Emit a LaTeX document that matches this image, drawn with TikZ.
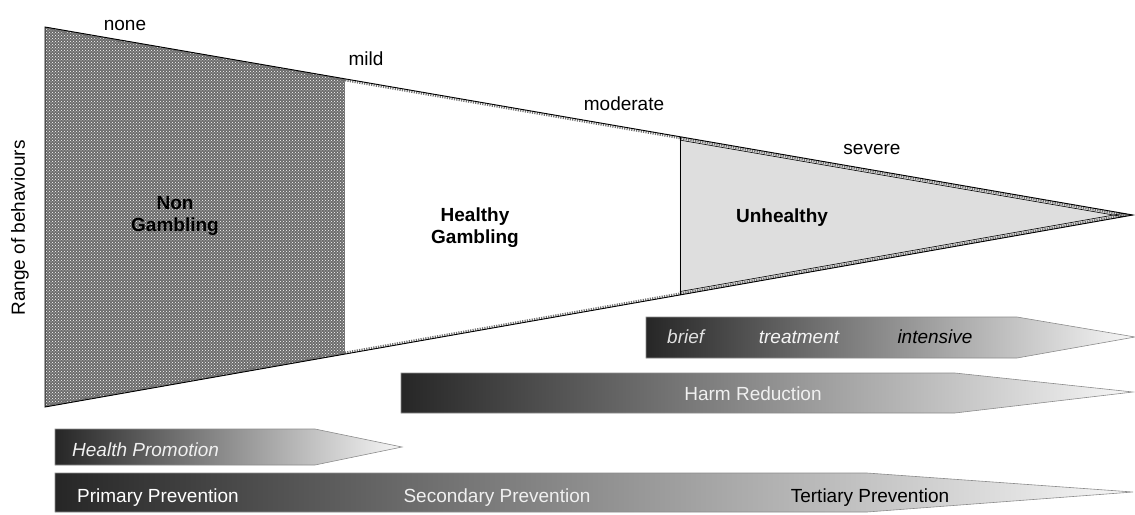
\documentclass[tikz,border=0pt]{standalone}
\usepackage{fontspec}
\setmainfont{Liberation Sans}
\usetikzlibrary{patterns,calc}
\begin{document}
\begin{tikzpicture}[x=1pt,y=-1pt,
  lbl/.style={font=\fontsize{19}{22}\selectfont, inner sep=0pt, anchor=base},
  zone/.style={font=\fontsize{19}{22}\selectfont\bfseries, inner sep=0pt, align=center},
  bar/.style={left color=black!85, right color=black!3, draw=black!45, line width=0.6pt},
  edge/.style={draw=black, line width=0.9pt, line join=miter}]
\useasboundingbox (0,0) rectangle (1135,514);

% funnel corners
\coordinate (TL) at (45,27);
\coordinate (BL) at (45,407);
\coordinate (AP) at (1133,215);
\coordinate (M1t) at ($(TL)!0.2757!(AP)$);
\coordinate (M1b) at ($(BL)!0.2757!(AP)$);
\coordinate (M2t) at ($(TL)!0.5836!(AP)$);
\coordinate (M2b) at ($(BL)!0.5836!(AP)$);

% non gambling region
\fill[black!58] (TL) -- (M1t) -- (M1b) -- (BL) -- cycle;
\fill[pattern=crosshatch dots, pattern color=white] (TL) -- (M1t) -- (M1b) -- (BL) -- cycle;
% unhealthy region
\fill[black!13] (M2t) -- (AP) -- (M2b) -- cycle;

% patterned edge strips
\begin{scope}
  \clip (TL) -- (AP) -- (BL) -- cycle;
  \draw[black!55, line width=5pt, dash pattern=on 1.2pt off 1.2pt] (TL) -- (AP) (BL) -- (AP);
  \draw[black, line width=0.6pt] ($(M2t)+(0,3.4)$) -- ($(AP)+(0,3.4)$);
  \draw[black, line width=0.6pt] ($(M2b)+(0,-3.4)$) -- ($(AP)+(0,-3.4)$);
\end{scope}
\draw[black, line width=0.7pt] (M2t) -- (M2b);
\draw[edge] (TL) -- (AP) -- (BL) -- cycle;

% severity labels
\node[lbl] (none) at (125,30) {none};
\node[lbl] (mild) at (366,65) {mild};
\node[lbl] (moderate) at (624,110) {moderate};
\node[lbl] (severe) at (872,154) {severe};

% zone labels
\node[zone] (nongamb) at (175,216) {Non\\Gambling};
\node[zone] (healthy) at (475,228) {Healthy\\Gambling};
\node[zone, anchor=base] (unhealthy) at (782,222) {Unhealthy};

\node[lbl, anchor=center, rotate=90] (range) at (20,228) {Range of behaviours};

% arrows
\path[bar] (646,317) -- (1017,317) -- (1135,337) -- (1017,358) -- (646,358) -- cycle;
\path[bar] (401,373) -- (955,373) -- (1133,392) -- (955,413) -- (401,413) -- cycle;
\path[bar] (55,429) -- (315,429) -- (402,447) -- (315,465) -- (55,465) -- cycle;
\path[bar] (55,473) -- (867,473) -- (1133,492) -- (867,512) -- (55,512) -- cycle;

\node[lbl, anchor=base west, text=black!12, font=\fontsize{19}{22}\selectfont\itshape] (brief) at (667,343) {brief};
\node[lbl, text=black!4, font=\fontsize{19}{22}\selectfont\itshape] (treat) at (799,343) {treatment};
\node[lbl, text=black, font=\fontsize{19}{22}\selectfont\itshape] (intens) at (935,343) {intensive};
\node[lbl, text=black!6] (harm) at (753,400) {Harm Reduction};
\node[lbl, anchor=base west, text=black!6, font=\fontsize{19}{22}\selectfont\itshape] (hp) at (72,456) {Health Promotion};
\node[lbl, anchor=base west, text=white] (prim) at (77,502) {Primary Prevention};
\node[lbl, text=black!6] (sec) at (497,502) {Secondary Prevention};
\node[lbl, text=black] (tert) at (870,502) {Tertiary Prevention};
\end{tikzpicture}
\end{document}
